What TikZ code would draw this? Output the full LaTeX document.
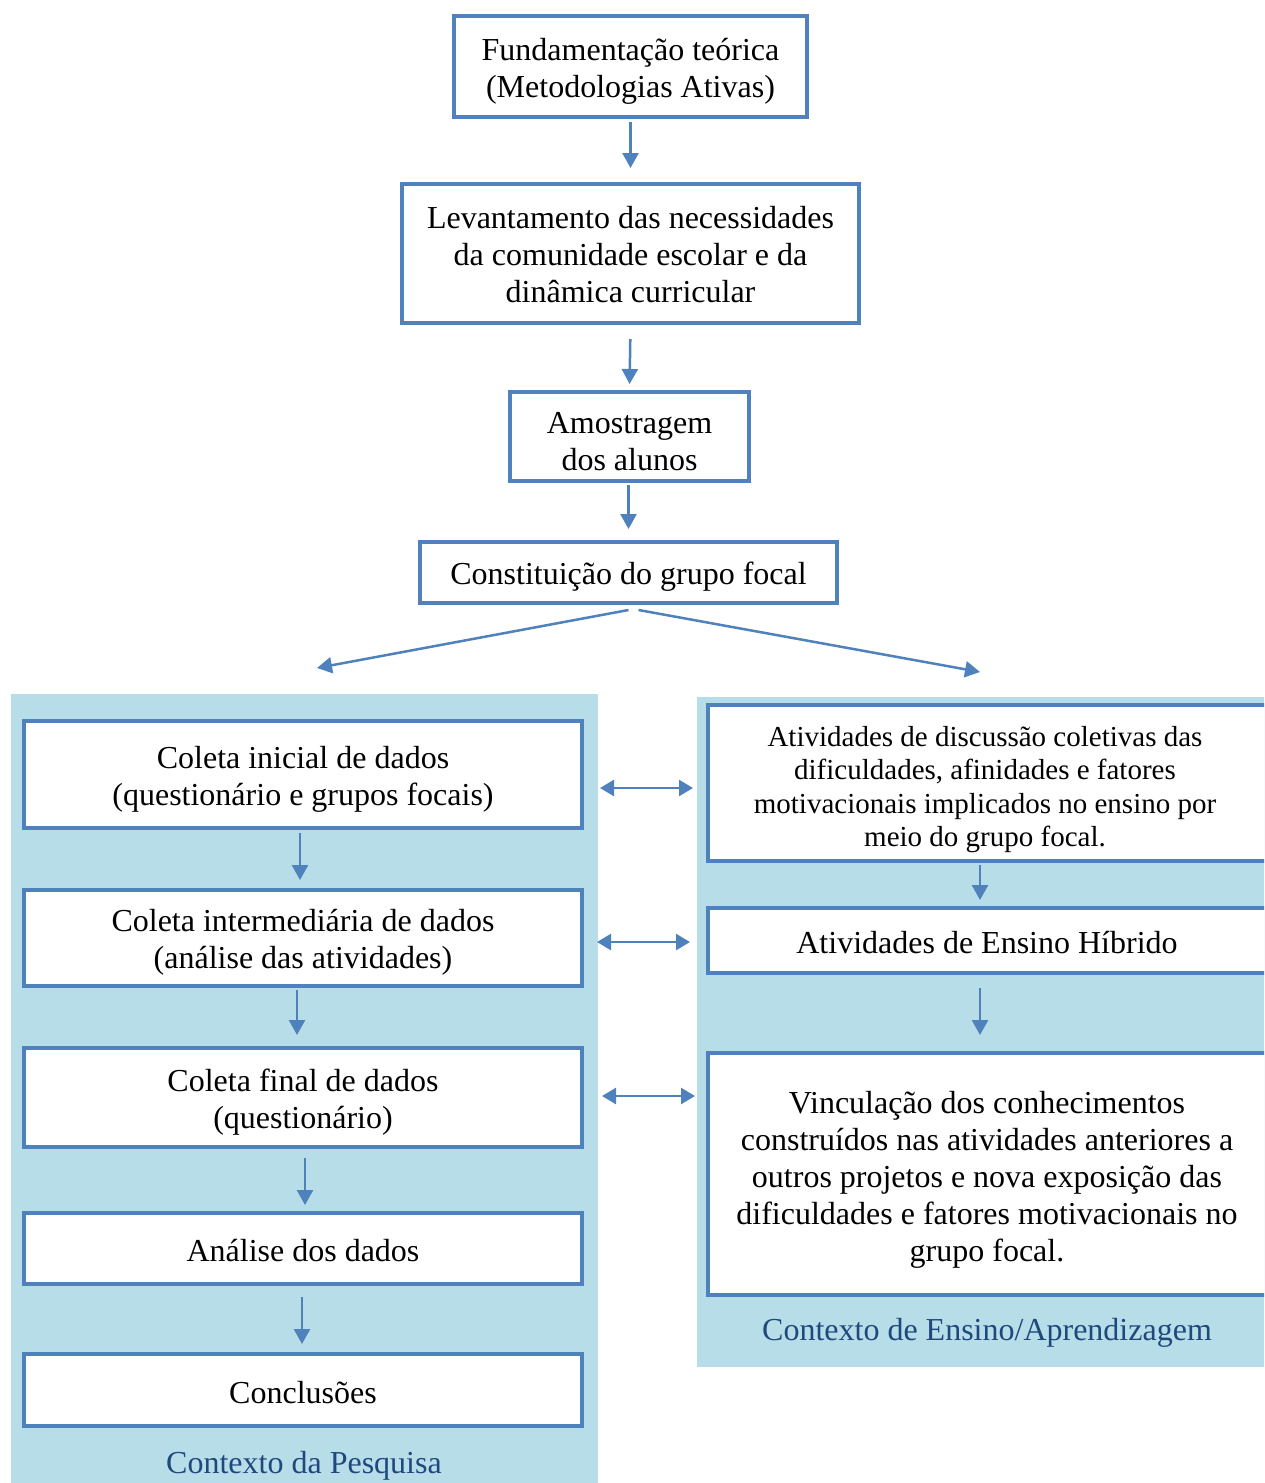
\documentclass[tikz,border=0pt]{standalone}
\usepackage{fontspec}
\setmainfont{Liberation Serif}
\usetikzlibrary{arrows.meta}
\definecolor{boxblue}{HTML}{4F81BD}
\definecolor{panelblue}{HTML}{B7DDE8}
\definecolor{labelblue}{HTML}{1F497D}
% taller first line, to set the text a little lower in its box
\newcommand{\lowerby}[1]{\rule{0pt}{#1pt}}
\tikzset{
  stepbox/.style={draw=boxblue, line width=4pt, fill=white, rectangle, inner sep=0pt,
    align=center, font=\fontsize{32}{37}\selectfont},
  smallbox/.style={stepbox, font=\fontsize{29}{33.5}\selectfont},
  flow/.style={draw=boxblue, line width=2.5pt, -{Triangle[length=15pt,width=16pt]}},
  twoway/.style={draw=boxblue, line width=2.5pt, {Triangle[length=14pt,width=16pt]}-{Triangle[length=14pt,width=16pt]}},
  ctxlabel/.style={text=labelblue, font=\fontsize{32}{37}\selectfont, inner sep=0pt}
}
\begin{document}
\begin{tikzpicture}[x=1pt,y=-1pt]
\useasboundingbox (0,0) rectangle (1264,1483);
\clip (0,0) rectangle (1264,1483);
% context panels
\fill[panelblue] (11,694) rectangle (598,1490);
\fill[panelblue] (697,697) rectangle (1270,1367);

% main sequence
\node[stepbox, minimum width=353pt, minimum height=101pt] (b1) at (630.5,66.5)
  {\lowerby{31}Fundamentação teórica\\(Metodologias Ativas)};
\node[stepbox, minimum width=457pt, minimum height=139pt] (b2) at (630.5,253.5)
  {\lowerby{24}Levantamento das necessidades\\da comunidade escolar e da\\dinâmica curricular};
\node[stepbox, minimum width=239pt, minimum height=89pt] (b3) at (629.5,436.5)
  {\lowerby{31}Amostragem\\dos alunos};
\node[stepbox, minimum width=417pt, minimum height=61pt] (b4) at (628.5,572.5)
  {\lowerby{30}Constituição do grupo focal};

% research context
\node[stepbox, minimum width=558pt, minimum height=107pt] (l1) at (303,774.5)
  {\lowerby{32}Coleta inicial de dados\\(questionário e grupos focais)};
\node[stepbox, minimum width=558pt, minimum height=96pt] (l2) at (303,938)
  {\lowerby{30}Coleta intermediária de dados\\(análise das atividades)};
\node[stepbox, minimum width=558pt, minimum height=99pt] (l3) at (303,1097.5)
  {\lowerby{31}Coleta final de dados\\(questionário)};
\node[stepbox, minimum width=558pt, minimum height=71pt] (l4) at (303,1248.5)
  {\lowerby{27}Análise dos dados};
\node[stepbox, minimum width=558pt, minimum height=72pt] (l5) at (303,1390)
  {\lowerby{27}Conclusões};
\node[ctxlabel] (lab1) at (304,1466) {Contexto da Pesquisa};

% teaching/learning context
\node[smallbox, minimum width=560pt, minimum height=156pt] (r1) at (988,783)
  {\hspace*{-6pt}\lowerby{33}Atividades de discussão coletivas das\\\hspace*{-6pt}dificuldades, afinidades e fatores\\\hspace*{-6pt}motivacionais implicados no ensino por\\\hspace*{-6pt}meio do grupo focal.};
\node[stepbox, minimum width=560pt, minimum height=65pt] (r2) at (988,940.5)
  {\hspace*{-2pt}\lowerby{27}Atividades de Ensino Híbrido};
\node[stepbox, minimum width=560pt, minimum height=242pt] (r3) at (988,1174)
  {\hspace*{-2pt}\lowerby{33}Vinculação dos conhecimentos\\\hspace*{-2pt}construídos nas atividades anteriores a\\\hspace*{-2pt}outros projetos e nova exposição das\\\hspace*{-2pt}dificuldades e fatores motivacionais no\\\hspace*{-2pt}grupo focal.};
\node[ctxlabel] (lab2) at (987,1333) {Contexto de Ensino/Aprendizagem};

% sequence arrows
\draw[flow, shorten <=3pt, shorten >=14pt] (b1.south) -- (b2.north);
\draw[flow, shorten <=14pt, shorten >=6pt] (b2.south) -- (b3.north);
\draw[flow, shorten <=2pt, shorten >=11pt] ([xshift=-1pt]b3.south) -- ([xshift=-1pt]b3.south |- b4.north);

% split into the two contexts
\coordinate (splitL) at (317,668);
\coordinate (splitR) at (980,672);
\draw[flow] ([yshift=-5pt]b4.south) -- (splitL);
\draw[flow] ([xshift=10pt,yshift=-5pt]b4.south) -- (splitR);

% research context arrows
\draw[flow, shorten <=3pt, shorten >=8pt] ([xshift=-3pt]l1.south) -- ([xshift=-3pt]l1.south |- l2.north);
\draw[flow, shorten <=2pt, shorten >=11pt] ([xshift=-6pt]l2.south) -- ([xshift=-6pt]l2.south |- l3.north);
\draw[flow, shorten <=9pt, shorten >=6pt] ([xshift=2pt]l3.south) -- ([xshift=2pt]l3.south |- l4.north);
\draw[flow, shorten <=11pt, shorten >=8pt] ([xshift=-1pt]l4.south) -- ([xshift=-1pt]l4.south |- l5.north);

% teaching context arrows
\draw[flow, shorten <=2pt, shorten >=6pt] ([xshift=-8pt]r1.south) -- ([xshift=-8pt]r1.south |- r2.north);
\draw[flow, shorten <=13pt, shorten >=16pt] ([xshift=-8pt]r2.south) -- ([xshift=-8pt]r2.south |- r3.north);

% links between the contexts
\draw[twoway] ([xshift=16pt,yshift=-13.5pt]l1.east) -- ([xshift=-13pt,yshift=-13.5pt]l1.east -| r1.west);
\draw[twoway] ([xshift=13pt,yshift=-4pt]l2.east) -- ([xshift=-16pt,yshift=-4pt]l2.east -| r2.west);
\draw[twoway] ([xshift=18pt,yshift=1.5pt]l3.east) -- ([xshift=-11pt,yshift=1.5pt]l3.east -| r3.west);
\end{tikzpicture}
\end{document}
